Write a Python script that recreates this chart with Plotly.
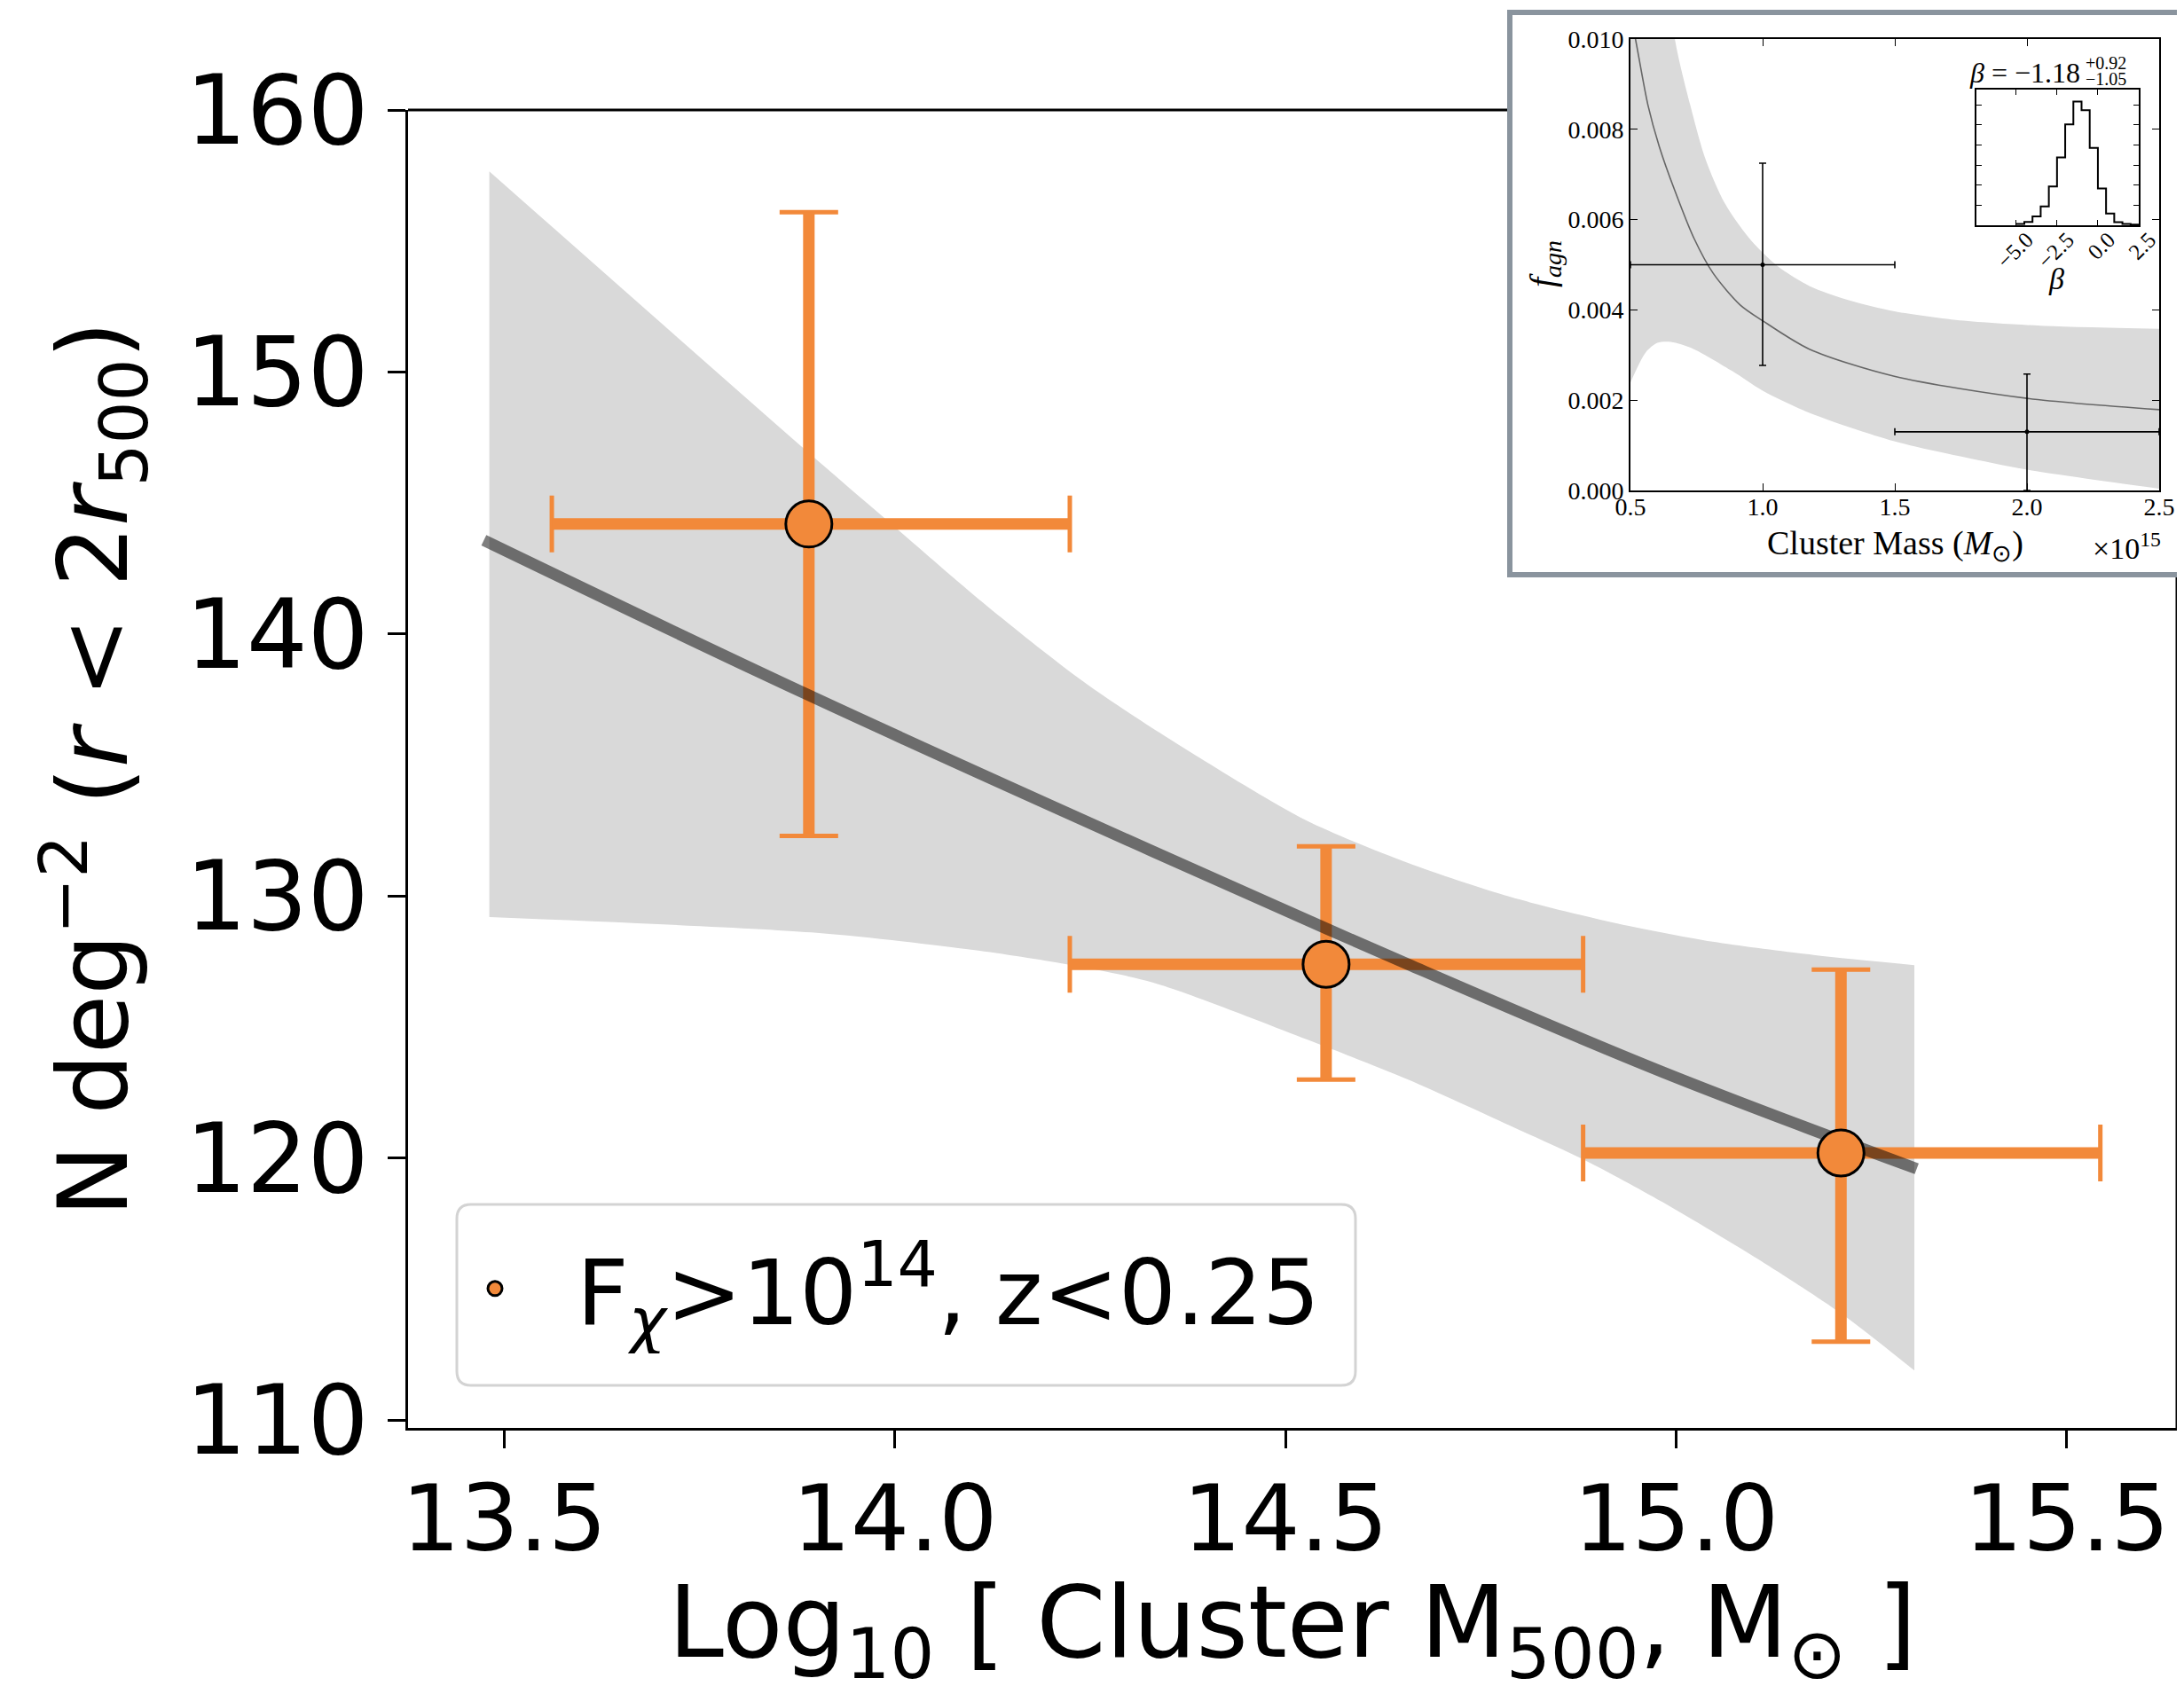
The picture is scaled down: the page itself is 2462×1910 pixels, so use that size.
import plotly.graph_objects as go

# The page body adds an 8 px margin; the figure is sized so that page pixel p maps to figure pixel p - 8.
PAGE_W, PAGE_H, OFF = 2462, 1910, 8
W, H = PAGE_W - OFF, PAGE_H - OFF

# ---------------- main panel data ----------------
mass = [13.890, 14.552, 15.211]
density = [144.2, 127.4, 120.2]
mass_lo = [13.561, 14.224, 14.881]
mass_hi = [14.224, 14.881, 15.543]
dens_lo = [132.3, 123.0, 113.0]
dens_hi = [156.1, 131.9, 127.2]

fit_x = [13.474, 13.884, 14.331, 14.657, 14.982, 15.308]
fit_y = [143.58, 137.75, 131.7, 127.4, 123.3, 119.6]

band_up_x = [13.481, 13.884, 13.989, 14.119, 14.250, 14.389, 14.526, 14.657, 14.787, 14.918, 15.047, 15.178, 15.305]
band_up_y = [157.66, 147.07, 144.37, 141.05, 138.0, 135.3, 132.9, 131.27, 129.98, 129.0, 128.26, 127.75, 127.37]
band_lo_x = [13.481, 13.90, 14.10, 14.22, 14.331, 14.526, 14.657, 14.787, 14.885, 14.982, 15.113, 15.211, 15.305]
band_lo_y = [129.2, 128.6, 127.95, 127.4, 126.7, 124.55, 123.0, 121.25, 119.9, 118.34, 116.0, 114.08, 111.9]

x_ticks = [13.5, 14.0, 14.5, 15.0, 15.5]
y_ticks = [110, 120, 130, 140, 150, 160]

# ---------------- inset data ----------------
in_mass = [1.0, 2.0]
in_f = [0.0050, 0.0013]
in_mass_lo = [0.5, 1.5]
in_mass_hi = [1.5, 2.5]
in_f_lo = [0.00277, 0.0]
in_f_hi = [0.00725, 0.00258]

curve_m = [0.505, 0.519, 0.566, 0.609, 0.668, 0.740, 0.813, 0.915, 1.0, 1.177, 1.498, 2.0, 2.5]
curve_f = [0.0104, 0.0100, 0.00854, 0.00762, 0.00664, 0.00559, 0.00481, 0.00411, 0.00376, 0.00313, 0.00253, 0.00204, 0.00179]

in_up_m = [0.5, 0.6, 0.668, 0.726, 0.784, 0.857, 0.959, 1.061, 1.177, 1.323, 1.498, 1.76, 2.051, 2.5]
in_up_f = [0.018, 0.0135, 0.0100, 0.00854, 0.00734, 0.00636, 0.00552, 0.00495, 0.00453, 0.00422, 0.00397, 0.00376, 0.00365, 0.00358]
in_lo_m = [0.5, 0.558, 0.602, 0.653, 0.740, 0.886, 1.0, 1.177, 1.498, 1.76, 2.0, 2.5]
in_lo_f = [0.00239, 0.00306, 0.00327, 0.00329, 0.00313, 0.00264, 0.00221, 0.00172, 0.00109, 0.00074, 0.00046, 0.00004]

in_x_ticks = [0.5, 1.0, 1.5, 2.0, 2.5]
in_y_ticks = [0.000, 0.002, 0.004, 0.006, 0.008, 0.010]

# ---------------- beta histogram ----------------
beta_edges = [-5.0, -4.5, -4.0, -3.5, -3.0, -2.5, -2.0, -1.5, -1.0, -0.5, 0.0, 0.5, 1.0, 1.5, 2.0, 2.5]
beta_counts = [0.07, 0.16, 0.44, 0.94, 1.93, 3.37, 5.02, 6.15, 5.72, 3.85, 1.83, 0.59, 0.15, 0.07, 0.03]
beta_ticks = [-5.0, -2.5, 0.0, 2.5]
beta_ticktext = ["\u22125.0", "\u22122.5", "0.0", "2.5"]

ORANGE = "#F2893A"
SERIF = "Liberation Serif"
SANS = "DejaVu Sans"


def px_x(p):
    return (p - OFF) / W


def px_y(p):
    return 1 - (p - OFF) / H


def rounded_rect(x0, y0, x1, y1, r):
    X = lambda v: f"{px_x(v):.6f}"
    Y = lambda v: f"{px_y(v):.6f}"
    return (f"M {X(x0 + r)} {Y(y0)} L {X(x1 - r)} {Y(y0)} Q {X(x1)} {Y(y0)} {X(x1)} {Y(y0 + r)} "
            f"L {X(x1)} {Y(y1 - r)} Q {X(x1)} {Y(y1)} {X(x1 - r)} {Y(y1)} "
            f"L {X(x0 + r)} {Y(y1)} Q {X(x0)} {Y(y1)} {X(x0)} {Y(y1 - r)} "
            f"L {X(x0)} {Y(y0 + r)} Q {X(x0)} {Y(y0)} {X(x0 + r)} {Y(y0)} Z")


xerr_plus = [h - v for h, v in zip(mass_hi, mass)]
xerr_minus = [v - l for v, l in zip(mass, mass_lo)]
yerr_plus = [h - v for h, v in zip(dens_hi, density)]
yerr_minus = [v - l for v, l in zip(density, dens_lo)]

fig = go.Figure()

# band (main): lower edge then upper edge filled to it
fig.add_trace(go.Scatter(
    x=band_lo_x, y=band_lo_y, mode="lines",
    line=dict(width=0, color="#d9d9d9", shape="spline", smoothing=0.8),
    showlegend=False, hoverinfo="skip", xaxis="x", yaxis="y"))
fig.add_trace(go.Scatter(
    x=band_up_x, y=band_up_y, mode="lines", fill="tonexty", fillcolor="#d9d9d9",
    line=dict(width=0, color="#d9d9d9", shape="spline", smoothing=0.8),
    showlegend=False, hoverinfo="skip", xaxis="x", yaxis="y"))

# error bars (main): thin caps, then thick bars without caps
fig.add_trace(go.Scatter(
    x=mass, y=density, mode="markers",
    marker=dict(size=1, color="rgba(0,0,0,0)"),
    error_x=dict(type="data", symmetric=False, array=xerr_plus, arrayminus=xerr_minus,
                 color=ORANGE, thickness=5, width=32),
    error_y=dict(type="data", symmetric=False, array=yerr_plus, arrayminus=yerr_minus,
                 color=ORANGE, thickness=5, width=33),
    showlegend=False, hoverinfo="skip", xaxis="x", yaxis="y"))
fig.add_trace(go.Scatter(
    x=mass, y=density, mode="markers",
    marker=dict(size=1, color="rgba(0,0,0,0)"),
    error_x=dict(type="data", symmetric=False, array=xerr_plus, arrayminus=xerr_minus,
                 color=ORANGE, thickness=13, width=0),
    error_y=dict(type="data", symmetric=False, array=yerr_plus, arrayminus=yerr_minus,
                 color=ORANGE, thickness=13, width=0),
    showlegend=False, hoverinfo="skip", xaxis="x", yaxis="y"))

# fit line
fig.add_trace(go.Scatter(
    x=fit_x, y=fit_y, mode="lines",
    line=dict(color="rgba(0,0,0,0.5)", width=13, shape="spline", smoothing=1.0),
    showlegend=False, xaxis="x", yaxis="y"))

# markers
fig.add_trace(go.Scatter(
    x=mass, y=density, mode="markers",
    marker=dict(size=52, color=ORANGE, line=dict(color="black", width=3)),
    name="F<sub><i>\u03c7</i></sub>&gt;10<sup>14</sup>, z&lt;0.25",
    showlegend=True, xaxis="x", yaxis="y"))

# ---------------- inset traces ----------------
fig.add_trace(go.Scatter(
    x=in_lo_m, y=in_lo_f, mode="lines",
    line=dict(width=0, color="#dadada", shape="spline", smoothing=0.8),
    showlegend=False, hoverinfo="skip", xaxis="x2", yaxis="y2"))
fig.add_trace(go.Scatter(
    x=in_up_m, y=in_up_f, mode="lines", fill="tonexty", fillcolor="#dadada",
    line=dict(width=0, color="#dadada", shape="spline", smoothing=0.8),
    showlegend=False, hoverinfo="skip", xaxis="x2", yaxis="y2"))
fig.add_trace(go.Scatter(
    x=curve_m, y=curve_f, mode="lines",
    line=dict(color="#666666", width=1.6, shape="spline", smoothing=0.8),
    showlegend=False, xaxis="x2", yaxis="y2"))
fig.add_trace(go.Scatter(
    x=in_mass, y=in_f, mode="markers",
    marker=dict(size=5, color="black"),
    error_x=dict(type="data", symmetric=False,
                 array=[h - v for h, v in zip(in_mass_hi, in_mass)],
                 arrayminus=[v - l for v, l in zip(in_mass, in_mass_lo)],
                 color="black", thickness=1.6, width=4),
    error_y=dict(type="data", symmetric=False,
                 array=[h - v for h, v in zip(in_f_hi, in_f)],
                 arrayminus=[v - l for v, l in zip(in_f, in_f_lo)],
                 color="black", thickness=1.6, width=4),
    showlegend=False, xaxis="x2", yaxis="y2"))

# histogram
fig.add_trace(go.Scatter(
    x=beta_edges, y=beta_counts + [beta_counts[-1]], mode="lines",
    line=dict(color="black", width=2, shape="hv"),
    showlegend=False, xaxis="x3", yaxis="y3"))

main_axis_common = dict(
    showline=True, linecolor="black", linewidth=3, mirror=False,
    ticks="outside", ticklen=20, tickwidth=3, tickcolor="black",
    showgrid=False, zeroline=False, automargin=False,
)

inset_axis_common = dict(
    showline=True, linecolor="black", linewidth=1.6, mirror="allticks",
    ticks="inside", ticklen=8, tickwidth=1.3, tickcolor="black",
    showgrid=False, zeroline=False, automargin=False,
    tickfont=dict(family=SERIF, size=28, color="black"),
)


def note(text, x, y, size, xanchor="center", yanchor="middle", angle=0):
    return dict(text=text, xref="paper", yref="paper", x=px_x(x), y=px_y(y),
                showarrow=False, xanchor=xanchor, yanchor=yanchor, textangle=angle,
                font=dict(family=SERIF, size=size, color="black"))


fig.update_layout(
    width=W, height=H,
    margin=dict(l=0, r=0, t=0, b=0, autoexpand=False),
    paper_bgcolor="white", plot_bgcolor="white",
    xaxis=dict(domain=[px_x(460), px_x(2454)], range=[13.377, 15.641],
               tickvals=x_ticks, ticktext=["13.5", "14.0", "14.5", "15.0", "15.5"],
               tickfont=dict(family=SANS, size=104, color="black"), ticklabelstandoff=-10,
               title=dict(text="Log<sub>10</sub> [ Cluster M<sub>500</sub>, M<sub>\u2299</sub> ]",
                          font=dict(family=SANS, size=112, color="black"), standoff=28),
               anchor="y", **main_axis_common),
    yaxis=dict(domain=[px_y(1610), px_y(124)], range=[109.71, 160],
               tickvals=y_ticks,
               tickfont=dict(family=SANS, size=108, color="black"),
               title=dict(text="N deg<sup>\u22122</sup> (<i>r</i> &lt; 2<i>r</i><sub>500</sub>)",
                          font=dict(family=SANS, size=108, color="black"), standoff=30),
               anchor="x", **main_axis_common),
    xaxis2=dict(domain=[px_x(1838), px_x(2434)], range=[0.5, 2.5],
                tickvals=in_x_ticks, ticktext=["0.5", "1.0", "1.5", "2.0", "2.5"],
                ticklabelstandoff=-7,
                anchor="y2", **inset_axis_common),
    yaxis2=dict(domain=[px_y(553), px_y(44)], range=[0, 0.010],
                tickvals=in_y_ticks, ticktext=["0.000", "0.002", "0.004", "0.006", "0.008", "0.010"],
                anchor="x2", **inset_axis_common),
    xaxis3=dict(domain=[px_x(2228), px_x(2411)], range=[-7.43, 2.5],
                tickvals=beta_ticks, ticktext=beta_ticktext, tickangle=-45,
                ticklabelstandoff=-10, ticklabelshift=12,
                anchor="y3", showline=True, linecolor="black", linewidth=1.6, mirror="allticks",
                ticks="inside", ticklen=6, tickwidth=1.2, tickcolor="black",
                showgrid=False, zeroline=False, automargin=False,
                tickfont=dict(family=SERIF, size=25, color="black")),
    yaxis3=dict(domain=[px_y(254), px_y(101)], range=[0, 6.75],
                tickvals=[1, 2, 3, 4, 5, 6], showticklabels=False,
                anchor="x3", showline=True, linecolor="black", linewidth=1.6, mirror="allticks",
                ticks="inside", ticklen=6, tickwidth=1.2, tickcolor="black",
                showgrid=False, zeroline=False, automargin=False),
    legend=dict(x=px_x(466), y=px_y(1453), xanchor="left", yanchor="middle",
                bgcolor="rgba(0,0,0,0)", borderwidth=0,
                font=dict(family=SANS, size=102, color="black"),
                itemwidth=174),
    shapes=[
        # inset frame (white background, grey border)
        dict(type="rect", xref="paper", yref="paper",
             x0=px_x(1702), x1=px_x(2459), y0=px_y(648), y1=px_y(14),
             fillcolor="white", line=dict(color="#8A949E", width=6), layer="below"),
        # main top spine (hidden under inset)
        dict(type="line", xref="paper", yref="paper",
             x0=px_x(460), x1=px_x(1699), y0=px_y(124), y1=px_y(124),
             line=dict(color="black", width=3), layer="below"),
        # main right spine (below inset)
        dict(type="line", xref="paper", yref="paper",
             x0=px_x(2454), x1=px_x(2454), y0=px_y(1610), y1=px_y(651),
             line=dict(color="black", width=3), layer="below"),
        # legend frame
        dict(type="path", xref="paper", yref="paper",
             path=rounded_rect(515, 1358, 1528, 1562, 16),
             fillcolor="rgba(255,255,255,0.85)", line=dict(color="#d3d3d3", width=3), layer="above"),
    ],
    annotations=[
        note("Cluster Mass (<i>M</i><sub>\u2299</sub>)", 2136, 615, 38),
        note("\u00d710<sup>15</sup>", 2397, 616, 34),
        note("<i>f</i><sub><i>agn</i></sub>", 1741, 298, 40, angle=-90),
        note("<i>\u03b2</i> = \u22121.18", 2347, 82, 32, xanchor="right"),
        note("+0.92", 2349, 71, 20, xanchor="left"),
        note("\u22121.05", 2349, 89, 20, xanchor="left"),
        note("<i>\u03b2</i>", 2318, 314, 34),
    ],
)

fig.write_html("out.html")
